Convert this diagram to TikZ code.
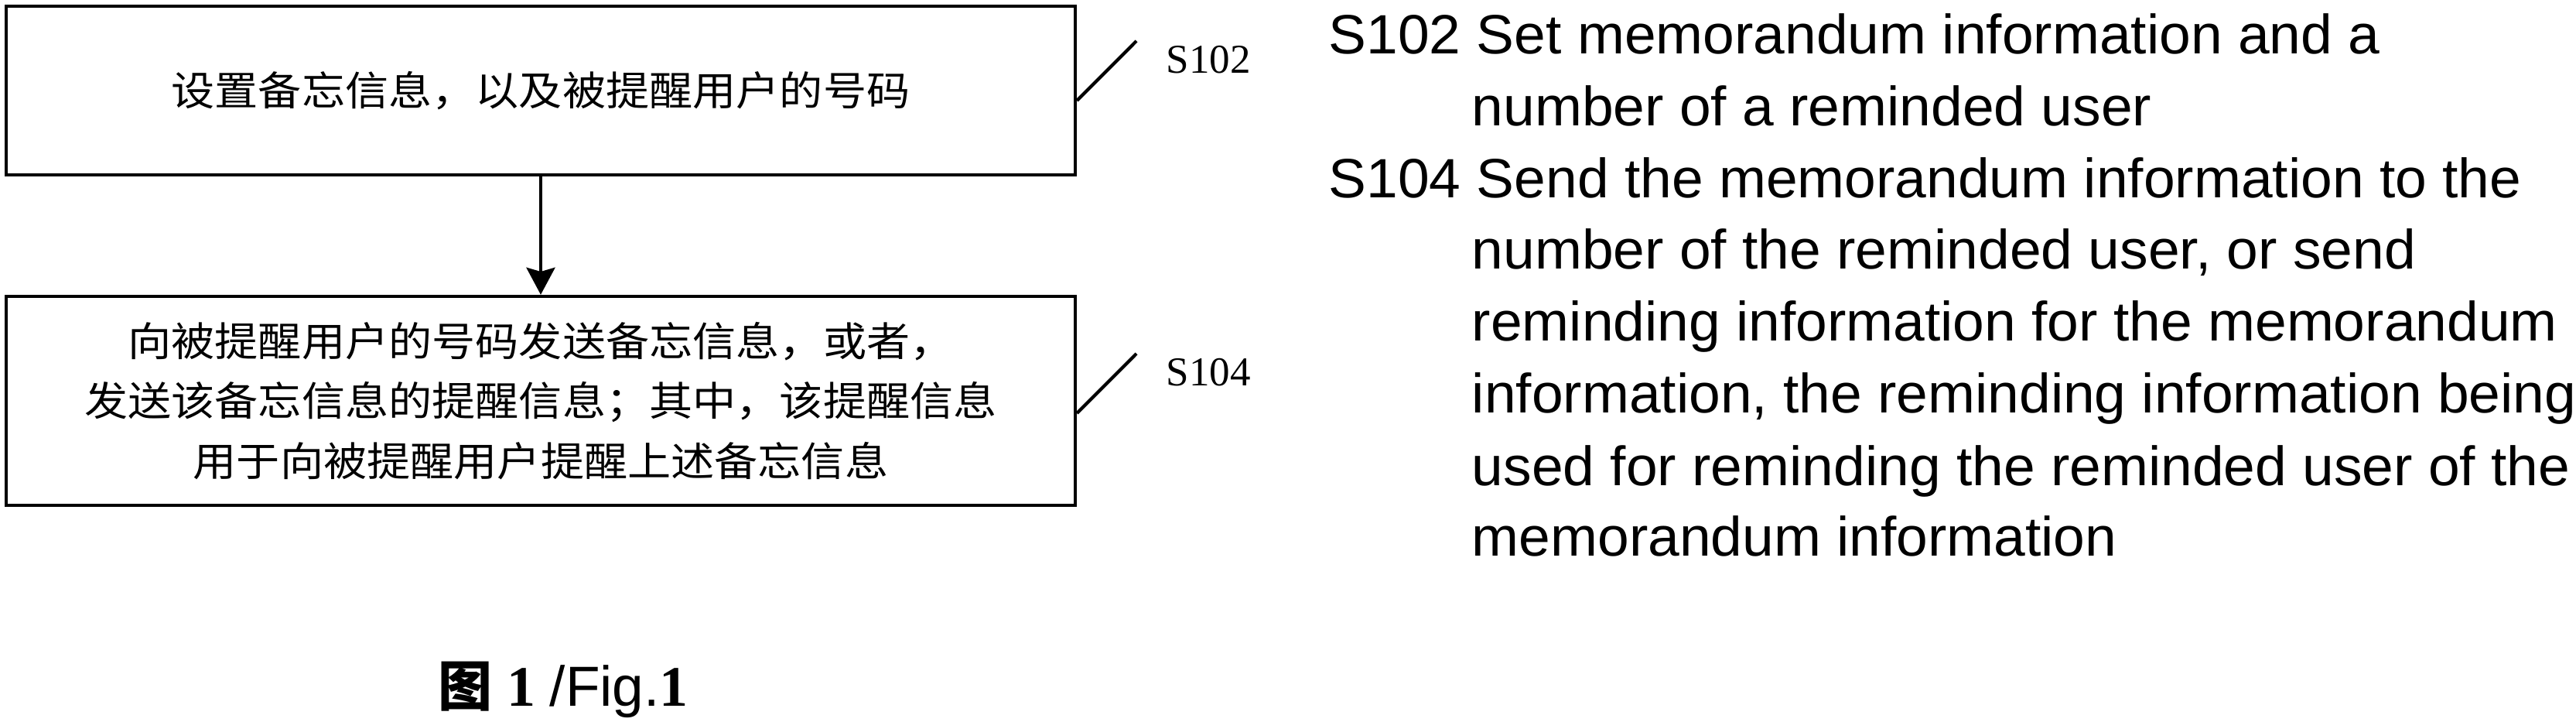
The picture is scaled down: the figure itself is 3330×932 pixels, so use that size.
\documentclass[tikz,border=0pt]{standalone}
\usepackage{fontspec}
\setmainfont{Liberation Serif}
\newfontfamily\cjkf[FakeStretch=1.08]{Noto Sans CJK SC}
\newfontfamily\cjkcap{Noto Sans CJK SC}
\newfontfamily\arialf[FakeStretch=1.022]{Liberation Sans}
\newfontfamily\arialplain{Liberation Sans}
\usetikzlibrary{arrows.meta,calc}
\begin{document}
\begin{tikzpicture}[x=0.25pt,y=-0.25pt,
  stepbox/.style={draw, line width=1.1pt, minimum width=345.5pt, inner sep=0pt,
    align=center, font=\cjkf\fontsize{13}{19.4}\selectfont},
  flowarrow/.style={line width=1.05pt, -{Stealth[length=8.75pt, width=9.25pt, inset=1.3pt]}},
  leader/.style={line width=1.05pt},
  slabel/.style={anchor=base west, inner sep=0pt, font=\fontsize{13.25}{15}\selectfont},
  desc/.style={anchor=base west, inner sep=0pt, font=\arialf\fontsize{17.9}{22}\selectfont}]
\path[fill=white] (0,0) rectangle (3330,932);
\useasboundingbox (0,0) rectangle (3330,932);

\node[stepbox, minimum height=54.5pt] (b1) at (699,117) {设置备忘信息，以及被提醒用户的号码};
\node[stepbox, minimum height=67.5pt] (b2) at (699,518)
  {向被提醒用户的号码发送备忘信息，或者，\\发送该备忘信息的提醒信息；其中，该提醒信息\\用于向被提醒用户提醒上述备忘信息};

\draw[flowarrow] (b1.south) -- (b2.north);

\coordinate (s1top) at (1469,53);
\coordinate (s2top) at (1469,457);
\draw[leader] ($(b1.east)+(0,13)$) -- (s1top);
\draw[leader] ($(b2.east)+(0,16)$) -- (s2top);

\node[slabel] (t1) at (1507,94) {S102};
\node[slabel] (t2) at (1507,498) {S104};

\node[desc] (d1) at (1717,69) {S102 Set memorandum information and a};
\node[desc] (d2) at (1902,162) {number of a reminded user};
\node[desc] (d3) at (1717,255) {S104 Send the memorandum information to the};
\node[desc] (d4) at (1902,347) {number of the reminded user, or send};
\node[desc] (d5) at (1902,440) {reminding information for the memorandum};
\node[desc] (d6) at (1902,533) {information, the reminding information being};
\node[desc] (d7) at (1902,627) {used for reminding the reminded user of the};
\node[desc] (d8) at (1902,718) {memorandum information};

\node[anchor=base west, inner sep=0pt] (cap) at (566,912)
  {{\cjkcap\bfseries\fontsize{17.5}{20}\selectfont 图}\hspace{4.75pt}{\bfseries\fontsize{18.5}{20}\selectfont 1}\hspace{4.5pt}{\arialplain\fontsize{18.25}{20}\selectfont /Fig.}{\bfseries\fontsize{18.5}{20}\selectfont 1}};
\end{tikzpicture}
\end{document}
